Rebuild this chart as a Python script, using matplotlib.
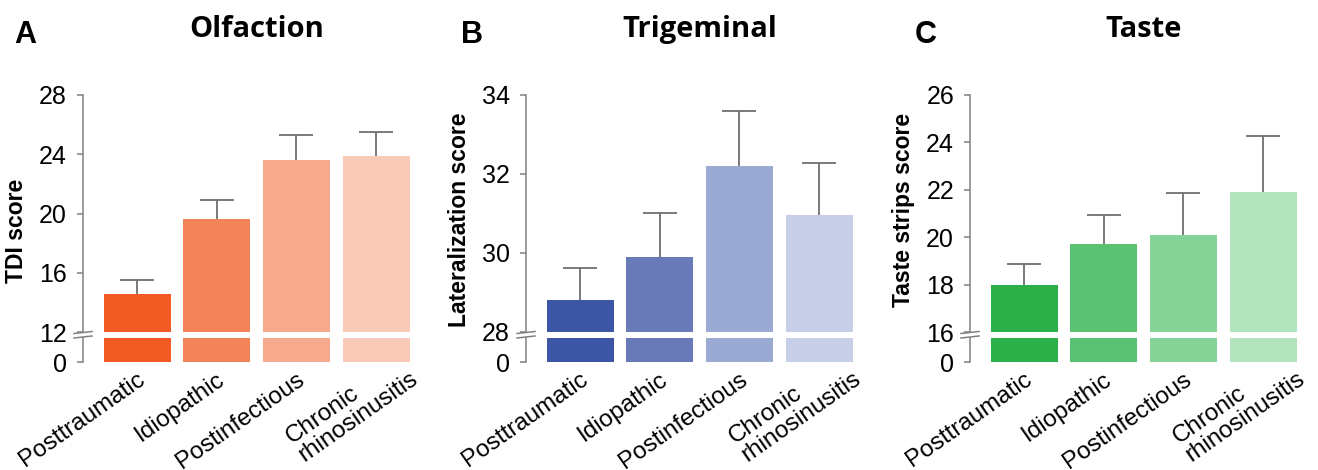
import matplotlib
matplotlib.use("Agg")
import matplotlib.pyplot as plt
import matplotlib.transforms as mtransforms
from matplotlib.lines import Line2D

plt.rcParams['font.family'] = ['Liberation Sans', 'DejaVu Sans']

groups = ["Posttraumatic", "Idiopathic", "Postinfectious", "Chronic\nrhinosinusitis"]

olf_mean = [14.55, 19.6, 23.6, 23.9]
olf_err = [0.95, 1.3, 1.7, 1.6]
tri_mean = [28.8, 29.91, 32.19, 30.96]
tri_err = [0.81, 1.09, 1.41, 1.32]
tas_mean = [17.98, 19.72, 20.11, 21.92]
tas_err = [0.88, 1.22, 1.77, 2.37]

olf_ticks = [12, 16, 20, 24, 28]
tri_ticks = [28, 30, 32, 34]
tas_ticks = [16, 18, 20, 22, 24, 26]

orange = ["#F15A22", "#F3845A", "#F6A98D", "#F9CAB8"]
blue = ["#3C56A5", "#687BB8", "#9BAAD3", "#C6CFE7"]
green = ["#2BB04A", "#5CC273", "#86D398", "#B2E4BE"]

panels = [
    ("A", "Olfaction", "TDI score", olf_mean, olf_err, olf_ticks, orange),
    ("B", "Trigeminal", "Lateralization score", tri_mean, tri_err, tri_ticks, blue),
    ("C", "Taste", "Taste strips score", tas_mean, tas_err, tas_ticks, green),
]

W, H = 1318, 470
fig = plt.figure(figsize=(W / 100, H / 100), dpi=100)

# layout in pixels
lefts = [83, 526, 970]
letter_x = [14, 461, 915]
ylab_y = [231, 220, 210]
ax_w = 329
top_px, brk_px = 95, 332
low_top, low_bot = 337.5, 362
grey = "#808080"

for k, (letter, title, ylab, mean, err, ticks, cols) in enumerate(panels):
    left = lefts[k]
    ax = fig.add_axes([left / W, (H - brk_px) / H, ax_w / W, (brk_px - top_px) / H])
    axb = fig.add_axes([left / W, (H - low_bot) / H, ax_w / W, (low_bot - low_top) / H])
    x = list(range(len(groups)))

    ax.bar(x, mean, width=0.84, color=cols, zorder=2)
    # lower half hidden behind the bars
    ax.errorbar(x, mean, yerr=[[e * 0.4 for e in err], err], fmt='none', ecolor='#707070',
                elinewidth=1.3, capsize=12, capthick=1.3, zorder=1)
    axb.bar(x, mean, width=0.84, color=cols)

    for a in (ax, axb):
        a.set_xlim(-0.68, 3.45)
        for s in ("top", "right", "bottom"):
            a.spines[s].set_visible(False)
        a.spines["left"].set_color(grey)
        a.spines["left"].set_linewidth(1.1)
        a.tick_params(axis='y', length=4.5, width=1.1, color=grey, pad=7, labelsize=18)
        a.set_xticks([])

    ax.set_ylim(ticks[0], ticks[-1])
    ax.set_yticks(ticks)
    axb.set_ylim(0, 1)
    axb.set_yticks([0])

    ax.set_ylabel(ylab, fontsize=16.5, fontweight='bold')
    ax.yaxis.set_label_coords(-55 / ax_w, (brk_px - ylab_y[k]) / (brk_px - top_px))

    # category labels under the bars
    base = mtransforms.blended_transform_factory(axb.transData, axb.transAxes)
    for i, g in enumerate(groups):
        dx, dy = (0, -6) if "\n" not in g else (22, 12)
        off = mtransforms.ScaledTranslation((dx - 1) / 100, dy / 100, fig.dpi_scale_trans)
        axb.text(i, 0, g, transform=base + off, rotation=35, ha='right', va='top',
                 rotation_mode='anchor', multialignment='left', fontsize=17.5,
                 linespacing=1.0)

    # break marks on the axis
    bx = left / W
    for yy in (brk_px + 0.5, low_top - 0.5):
        fig.add_artist(Line2D([bx - 9 / W, bx + 9 / W],
                              [(H - yy - 1) / H, (H - yy + 1) / H],
                              color=grey, lw=1.1))

    tt = mtransforms.blended_transform_factory(ax.transData, fig.transFigure)
    ax.text(1.5, (H - 37) / H, title, transform=tt, ha='center', va='baseline',
            fontsize=21, fontweight='bold', family=['Open Sans', 'DejaVu Sans'])
    fig.text(letter_x[k] / W, (H - 43) / H, letter, fontsize=22, fontweight='bold',
             va='baseline')

fig.savefig("out.png", dpi=100)
